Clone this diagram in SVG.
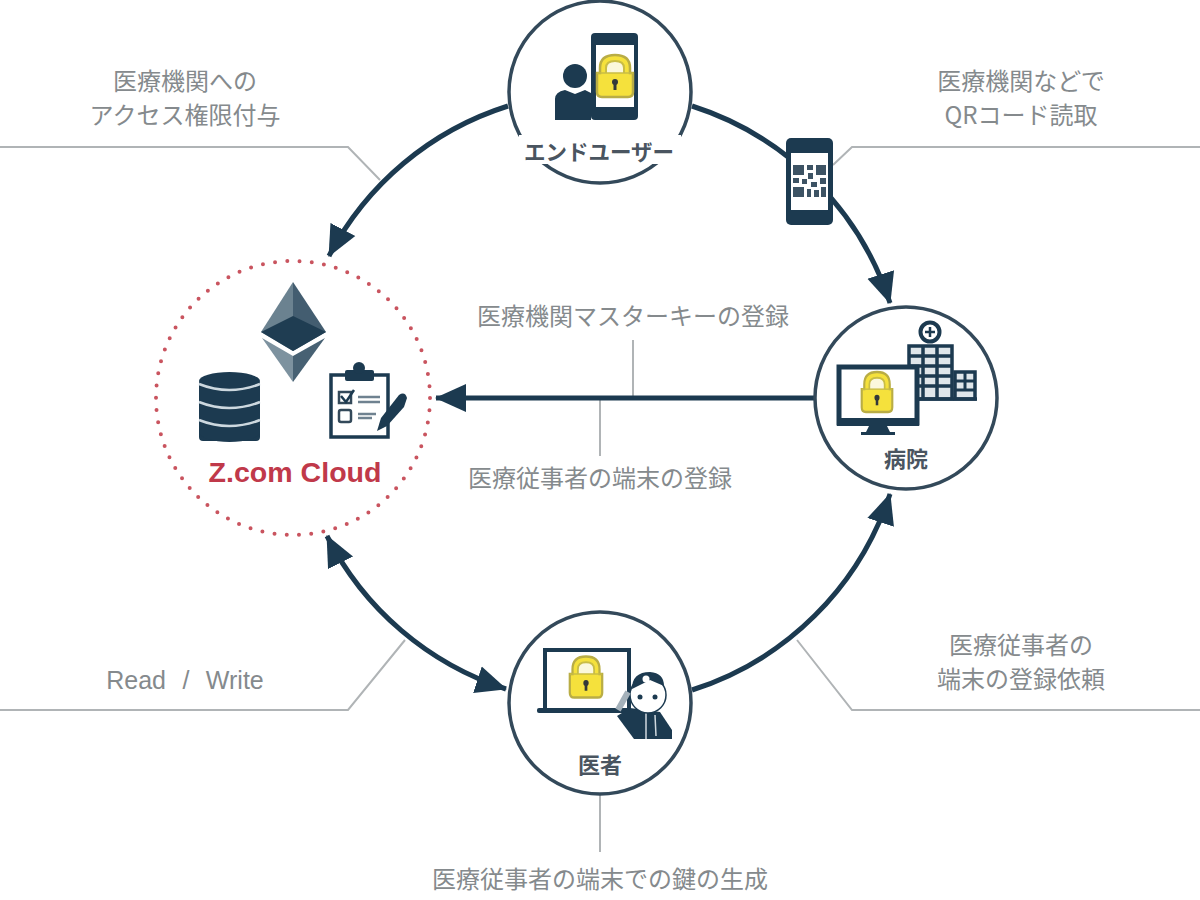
<svg xmlns="http://www.w3.org/2000/svg" width="1200" height="900" viewBox="0 0 1200 900">
<style>
.lead{fill:none;stroke:#b0b4b6;stroke-width:2}
.flow{fill:none;stroke:#1c3a50;stroke-width:5}
.ring{fill:#fff;stroke:#33495a;stroke-width:3.5}
.navy{fill:#1c3a50}
.lab{font-family:"Noto Sans CJK JP","Noto Sans",sans-serif;font-size:24px;font-weight:400;fill:#858a8d;text-anchor:middle}
.nm{font-family:"Noto Sans CJK JP","Noto Sans",sans-serif;font-weight:700;fill:#4a5560;text-anchor:middle}
</style>
<defs>
<marker id="ah" markerUnits="userSpaceOnUse" markerWidth="34" markerHeight="30" refX="30" refY="15" orient="auto-start-reverse"><path d="M0 1L31 15L0 29z" fill="#1c3a50"/></marker>
<g id="lock"><path d="M-15-3V-8Q-15-21 0-21Q15-21 15-8V-3H18V16Q18 21 13 21H-13Q-18 21-18 16V-3z" fill="#f5e13c" stroke="#b9ad45" stroke-width="2.500"/><path d="M-9-3V-8Q-9-15 0-15Q9-15 9-8V-3" fill="#fbf8dc" stroke="#c9bd45" stroke-width="2"/><path d="M-18-3H18" stroke="#c9bd45" stroke-width="1.500"/><circle cx="0" cy="6" r="3" fill="#33383a"/><rect x="-1.500" y="6" width="3" height="8" fill="#33383a"/></g>
</defs>
<rect width="1200" height="900" fill="#fff"/>
<g id="connectors">
<path class="lead" d="M0 147H348L380 180"/>
<path class="lead" d="M1200 147H852L833 165"/>
<path class="lead" d="M0 710H348L405 640"/>
<path class="lead" d="M1200 710H852L797 640"/>
<path class="lead" d="M600 795V852"/>
<path class="lead" d="M633 340V398"/>
<path class="lead" d="M600 398V456"/>
<path class="flow" d="M508 106A306 306 0 0 0 329 256" marker-end="url(#ah)"/>
<path class="flow" d="M692 106A306 306 0 0 1 890 303" marker-end="url(#ah)"/>
<path class="flow" d="M692 690A306 306 0 0 0 890 494" marker-end="url(#ah)"/>
<path class="flow" d="M327 536A306 306 0 0 0 506 689" marker-start="url(#ah)" marker-end="url(#ah)"/>
<path class="flow" d="M815 398H436" marker-end="url(#ah)"/>
</g>
<g id="end-user">
<circle class="ring" cx="600" cy="92" r="91"/>
<rect x="519" y="135" width="162" height="29" fill="#fff"/>
<circle class="navy" cx="575" cy="76" r="12"/>
<path class="navy" d="M555 120V99Q555 92 565 90L575 94L585 90L591 93V120z"/>
<rect class="navy" x="591" y="33" width="47" height="87" rx="4"/>
<rect x="596" y="45" width="38" height="62" fill="#fff"/>
<use href="#lock" transform="translate(615 76)"/>
<text class="nm" x="599" y="160" font-size="21.500">エンドユーザー</text>
</g>
<g id="qr-phone">
<rect class="navy" x="786" y="138" width="47" height="87" rx="5"/>
<rect x="791" y="153" width="37" height="57" fill="#fff"/>
<path fill="#3d5364" d="M793 165h11v10h-11zM807 165h6v5h-6zM816 165h10v10h-10zM808 173h5v6h-5zM793 178h6v5h-6zM802 179h5v5h-5zM811 182h6v5h-6zM820 178h6v6h-6zM793 187h11v10h-11zM807 189h4v8h-4zM814 190h5v7h-5zM821 187h5v10h-5z"/>
</g>
<g id="hospital">
<circle class="ring" cx="906" cy="398" r="91"/>
<circle cx="930" cy="332" r="9.500" fill="#fff" stroke="#1c3a50" stroke-width="4"/>
<path d="M930 327v10M925 332h10" stroke="#1c3a50" stroke-width="2.500"/>
<rect x="909" y="346" width="43" height="53" fill="#dfe6ea" stroke="#1c3a50" stroke-width="3.500"/>
<path d="M909 356h43M909 366h43M909 376h43M909 386h43M923 346v53M937 346v53" stroke="#1c3a50" stroke-width="3.500"/>
<rect x="955" y="372" width="20" height="27" fill="#dfe6ea" stroke="#1c3a50" stroke-width="3.500"/>
<path d="M955 381h20M955 390h20M965 372v18" stroke="#1c3a50" stroke-width="3"/>
<path d="M915 399H977" stroke="#1c3a50" stroke-width="3.500"/>
<rect x="839" y="367" width="78" height="56" fill="#fff" stroke="#1c3a50" stroke-width="5"/>
<rect class="navy" x="837" y="418" width="82" height="8"/>
<path class="navy" d="M869 426h18l3 6h5v3H861v-3h5z"/>
<use href="#lock" transform="translate(877 392) scale(.85 .95)"/>
<text class="nm" x="906" y="467" font-size="22">病院</text>
</g>
<g id="doctor">
<circle class="ring" cx="600" cy="703" r="91"/>
<rect x="545" y="650" width="84" height="60" fill="#fff" stroke="#1c3a50" stroke-width="4"/>
<rect class="navy" x="537" y="708" width="90" height="5" rx="2"/>
<use href="#lock" transform="translate(586 677) scale(.9 .98)"/>
<path class="navy" d="M617 716L630 708L660 712L672 730V739H634z"/>
<path d="M646 713V739M655 715L656 736" stroke="#cfd8de" stroke-width="1.500"/>
<ellipse cx="648" cy="695" rx="18" ry="18" fill="#fff" stroke="#1c3a50" stroke-width="1.500"/>
<path class="navy" d="M632 689Q632 672 650 672Q664 673 664 686L650 680z"/>
<circle cx="646" cy="679" r="3.500" fill="#fff"/>
<circle class="navy" cx="640" cy="697" r="2.500"/><circle class="navy" cx="655" cy="697" r="2.500"/>
<path d="M618 710L628 692" stroke="#a4b1ba" stroke-width="6"/>
<text class="nm" x="600" y="773" font-size="22">医者</text>
</g>
<g id="zcom-cloud">
<circle cx="293" cy="398" r="137" fill="#fff" stroke="#c9545f" stroke-width="4" stroke-linecap="round" stroke-dasharray="0 12.300"/>
<path d="M293 282L261 332L293 351z" fill="#6b8290"/>
<path d="M293 282L326 332L293 351z" fill="#435d70"/>
<path d="M261 332L293 316L326 332L293 351z" fill="#1f3d52"/>
<path d="M262 338L293 356V382z" fill="#7d929f"/>
<path d="M325 338L293 356V382z" fill="#476173"/>
<rect class="navy" x="199" y="380" width="61" height="61" rx="4"/>
<ellipse class="navy" cx="229.500" cy="381" rx="30.500" ry="9"/>
<ellipse class="navy" cx="229.500" cy="432" rx="30.500" ry="10"/>
<path d="M199 384Q229 396 260 384M199 402Q229 414 260 402M199 420Q229 432 260 420" fill="none" stroke="#cdd8df" stroke-width="2.500"/>
<rect x="331" y="375" width="57" height="62" fill="#fff" stroke="#1c3a50" stroke-width="3.500"/>
<rect class="navy" x="345" y="370" width="29" height="11" rx="2"/>
<circle class="navy" cx="359" cy="368" r="6"/>
<rect x="339" y="392" width="12" height="11" fill="#fff" stroke="#33495a" stroke-width="2.500"/>
<rect x="339" y="410" width="12" height="12" rx="2" fill="#fff" stroke="#33495a" stroke-width="2.500"/>
<path d="M341 396L346 402L354 390" fill="none" stroke="#1c3a50" stroke-width="2.500"/>
<path d="M358 397H380M358 402H380M358 414H376M358 418H372" stroke="#6f8290" stroke-width="2.500"/>
<path class="navy" d="M377 431L381 418L399 395Q405 391 407 398L404 407L387 426z"/>
<text x="295" y="482" text-anchor="middle" font-family="Liberation Sans,sans-serif" font-size="27" font-weight="700" fill="#c0394a" textLength="173" lengthAdjust="spacingAndGlyphs">Z.com Cloud</text>
</g>
<g id="labels">
<text class="lab" x="185" y="90">医療機関への</text>
<text class="lab" x="185" y="124">アクセス権限付与</text>
<text class="lab" x="1021" y="90">医療機関などで</text>
<text class="lab" x="1021" y="124">QRコード読取</text>
<text class="lab" x="633" y="325">医療機関マスターキーの登録</text>
<text class="lab" x="600" y="487">医療従事者の端末の登録</text>
<text class="lab" x="185" y="689" style="font-family:'Liberation Sans',sans-serif;font-size:25px;word-spacing:9.500px">Read / Write</text>
<text class="lab" x="1021" y="654">医療従事者の</text>
<text class="lab" x="1021" y="688">端末の登録依頼</text>
<text class="lab" x="600" y="888">医療従事者の端末での鍵の生成</text>
</g>
</svg>
